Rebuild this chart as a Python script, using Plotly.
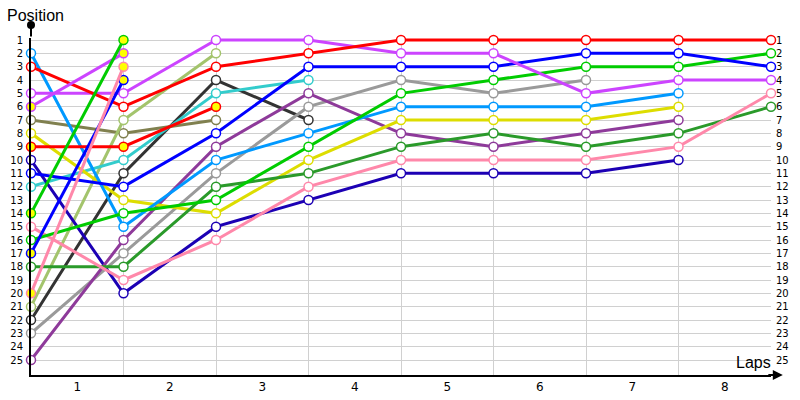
import plotly.graph_objects as go

laps = list(range(9))
lap_labels = [str(i) for i in range(1, 9)]
positions = list(range(1, 26))
pos_labels = [str(p) for p in positions]

# positions per lap (lap 0 = start)
red = [3, 6, 3, 2, 1, 1, 1, 1, 1]
magenta = [5, 5, 1, 1, 2, 2, 5, 4, 4]
blue = [11, 12, 8, 3, 3, 3, 2, 2, 3]
green = [16, 14, 13, 9, 5, 4, 3, 3, 2]
pink = [15, 19, 16, 12, 10, 10, 10, 9, 5]
dark_green = [18, 18, 12, 11, 9, 8, 9, 8, 6]
light_blue = [2, 15, 10, 8, 6, 6, 6, 5]
yellow = [8, 13, 14, 10, 7, 7, 7, 6]
purple = [25, 16, 9, 5, 8, 9, 8, 7]
navy = [10, 20, 15, 13, 11, 11, 11, 10]
gray = [23, 17, 11, 6, 4, 5, 4]
teal = [12, 10, 5, 4]
black = [22, 11, 4, 7]
olive = [7, 8, 7]
light_olive = [21, 7, 2]
red_pit = [9, 9, 6]
magenta_pit = [6, 2]
green_pit = [14, 1]
blue_pit = [17, 4]
pink_pit = [20, 3]

series = [
    (olive, "#80804F", "white"),
    (light_olive, "#A3C46C", "white"),
    (black, "#333333", "white"),
    (teal, "#33CCCC", "white"),
    (gray, "#9A9A9A", "white"),
    (navy, "#1C00B4", "white"),
    (purple, "#8E3A9A", "white"),
    (yellow, "#DDDD00", "white"),
    (light_blue, "#0099FF", "white"),
    (dark_green, "#2A9A2A", "white"),
    (pink, "#FF88AA", "white"),
    (green, "#00CC00", "white"),
    (blue, "#0000FF", "white"),
    (magenta, "#CC44FF", "white"),
    (red, "#FF0000", "white"),
    (red_pit, "#FF0000", "#FFFF00"),
    (magenta_pit, "#CC44FF", "#FFFF00"),
    (green_pit, "#00CC00", "#FFFF00"),
    (blue_pit, "#0000FF", "#FFFF00"),
    (pink_pit, "#FF88AA", "#FFFF00"),
]

fig = go.Figure()
for vals, col, fill in series:
    fig.add_trace(go.Scatter(
        x=laps[:len(vals)], y=vals, mode="lines+markers",
        line=dict(color=col, width=3),
        marker=dict(size=9, color=fill, line=dict(color=col, width=1.5)),
        cliponaxis=False, showlegend=False, hoverinfo="skip",
    ))

# helper traces to activate secondary axes
fig.add_trace(go.Scatter(x=[None], y=[None], xaxis="x2", yaxis="y", showlegend=False))
fig.add_trace(go.Scatter(x=[None], y=[None], xaxis="x", yaxis="y2", showlegend=False))

grid = "#D0D0D0"
yr = [26.125, 0.85]
xr = [0, 8]
font = "DejaVu Sans"

fig.update_layout(
    width=800, height=400, autosize=False,
    margin=dict(l=31, r=29, t=38, b=25),
    paper_bgcolor="white", plot_bgcolor="white",
    font=dict(family=font, color="black"),
    xaxis=dict(range=xr, tickmode="array", tickvals=[i + 0.5 for i in range(8)],
               ticktext=lap_labels, showgrid=False, zeroline=False, automargin=False,
               showline=True, linecolor="black", linewidth=2, ticks="",
               tickfont=dict(size=12, family=font)),
    xaxis2=dict(range=xr, overlaying="x", anchor="y", side="bottom", automargin=False,
                tickmode="array", tickvals=list(range(1, 9)), showgrid=True,
                gridcolor=grid, gridwidth=1, showticklabels=False, zeroline=False,
                showline=False, ticks=""),
    yaxis=dict(range=yr, tickmode="array", tickvals=positions, ticktext=pos_labels,
               showgrid=True, gridcolor=grid, gridwidth=1, zeroline=False, automargin=False,
               showline=True, linecolor="black", linewidth=2, ticks="",
               tickfont=dict(size=10, family=font), ticklabelstandoff=4),
    yaxis2=dict(range=yr, overlaying="y", anchor="x", side="right", automargin=False,
                tickmode="array", tickvals=positions, ticktext=pos_labels,
                showgrid=False, zeroline=False, showline=False, ticks="",
                tickfont=dict(size=10, family=font), ticklabelstandoff=4),
)

fig.add_annotation(text="Position", xref="paper", yref="paper", x=-0.035, y=1,
                   xanchor="left", yanchor="middle", yshift=23, showarrow=False,
                   font=dict(size=16, family="Liberation Sans", color="black"))
fig.add_annotation(text="Laps", xref="paper", yref="paper", x=0.977, y=0,
                   xanchor="center", yanchor="middle", yshift=13, showarrow=False,
                   font=dict(size=16, family="Liberation Sans", color="black"))
# axis extensions (arrow on x axis, dot on top of y axis)
fig.add_annotation(text="", xref="paper", yref="paper", x=1.016, y=0,
                   ax=-16, ay=0, showarrow=True, arrowhead=2, arrowsize=1,
                   arrowwidth=2, arrowcolor="black")
fig.add_annotation(text="", xref="paper", yref="paper", x=0, y=1, yshift=13,
                   ax=0, ay=13, showarrow=True, arrowhead=6, arrowsize=1,
                   arrowwidth=2, arrowcolor="black")

fig.write_html("out.html", config={"displayModeBar": False},
               post_script="document.body.style.margin='0';document.body.style.overflow='hidden';")
